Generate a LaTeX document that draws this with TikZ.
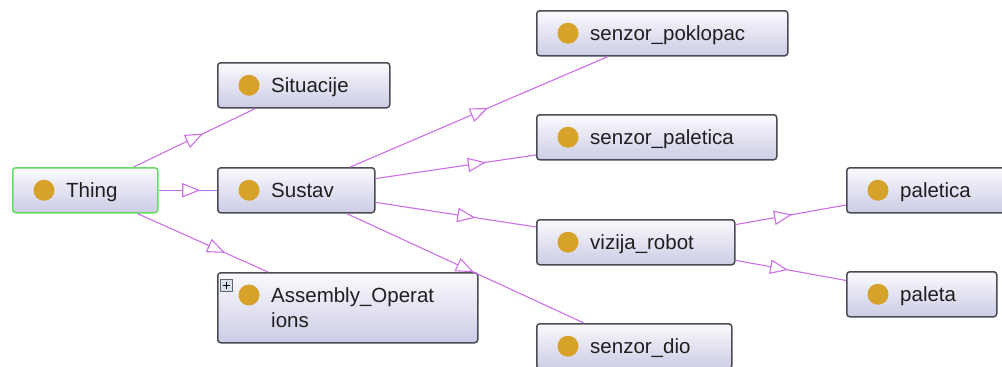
\documentclass[tikz,border=0pt]{standalone}
\usepackage{fontspec}
\setmainfont{Liberation Sans}
\usetikzlibrary{decorations.markings}
\definecolor{edgec}{RGB}{204,112,232}
\definecolor{gold}{RGB}{214,162,42}
\definecolor{boxtop}{RGB}{250,250,253}
\definecolor{boxbot}{RGB}{204,204,230}
\definecolor{boxline}{RGB}{75,75,85}
\definecolor{thingline}{RGB}{100,220,100}
\definecolor{plusfill}{RGB}{215,225,235}
\tikzset{
 clsbox/.style={draw=boxline, line width=1.5pt, rounded corners=3pt, top color=boxtop, bottom color=boxbot, inner sep=0pt, anchor=north west},
 lbl/.style={anchor=base west, inner sep=0pt, font=\fontsize{20.5}{25}\selectfont, text=black!88},
 dot/.style={circle, fill=gold, minimum size=21pt, inner sep=0pt},
 isaline/.style={draw=edgec, line width=1.1pt},
 isahead/.style={decorate, decoration={markings, mark=at position 0.5 with
   {\draw[edgec, fill=white, line width=1.1pt, line join=miter] (-8pt,-6.5pt) -- (8pt,0pt) -- (-8pt,6.5pt) -- cycle;}}},
}
\newcommand\clslabel[2]{%
  \node[dot] (#1-d) at ([xshift=32pt]#1.west) {};
  \node[lbl] (#1-t) at ([xshift=54pt,yshift=-7.5pt]#1.west) {#2};}
\newcommand\isa[2]{%
  \draw[isaline] (#1) -- (#2);
  \path[isahead] (#1.center) -- (#2.center);}
\begin{document}
\begin{tikzpicture}[x=1pt,y=-1pt]
\useasboundingbox[fill=white] (0,0) rectangle (1002,367);
% boxes
\node[clsbox, draw=thingline, minimum width=145pt, minimum height=45pt] (thing) at (12,167) {};
\node[clsbox, minimum width=172pt, minimum height=45pt] (situ) at (217,62) {};
\node[clsbox, minimum width=157pt, minimum height=45pt] (sustav) at (217,167) {};
\node[clsbox, minimum width=260pt, minimum height=70pt] (asm) at (217,272) {};
\node[clsbox, minimum width=251pt, minimum height=45pt] (poklopac) at (536,10) {};
\node[clsbox, minimum width=240pt, minimum height=45pt] (spaletica) at (536,114) {};
\node[clsbox, minimum width=198pt, minimum height=45pt] (vizija) at (536,219) {};
\node[clsbox, minimum width=195pt, minimum height=45pt] (dio) at (536,323) {};
\node[clsbox, minimum width=166pt, minimum height=45pt] (paletica) at (846,167) {};
\node[clsbox, minimum width=150pt, minimum height=45pt] (paleta) at (846,271) {};
% labels
\clslabel{thing}{Thing}
\clslabel{situ}{Situacije}
\clslabel{sustav}{Sustav}
\clslabel{poklopac}{senzor\_poklopac}
\clslabel{spaletica}{senzor\_paletica}
\clslabel{vizija}{vizija\_robot}
\clslabel{dio}{senzor\_dio}
\clslabel{paletica}{paletica}
\clslabel{paleta}{paleta}
\node[dot] (asm-d) at ([xshift=32pt,yshift=-23pt]asm.north west) {};
\node[lbl] (asm-t1) at ([xshift=54pt,yshift=-30.5pt]asm.north west) {Assembly\_Operat};
\node[lbl] (asm-t2) at ([xshift=54pt,yshift=-55.5pt]asm.north west) {ions};
% expand icon
\node[draw=black!60, fill=plusfill, minimum size=12pt, inner sep=0pt, anchor=north west] (plus) at (220,279) {};
\draw[line width=1.3pt] ([xshift=-3.5pt]plus.center) -- ([xshift=3.5pt]plus.center)
  ([yshift=-3.5pt]plus.center) -- ([yshift=3.5pt]plus.center);
% edges
\isa{thing}{situ}
\isa{thing}{sustav}
\isa{thing}{asm}
\isa{sustav}{poklopac}
\isa{sustav}{spaletica}
\isa{sustav}{vizija}
\isa{sustav}{dio}
\isa{vizija}{paletica}
\isa{vizija}{paleta}
\end{tikzpicture}
\end{document}
